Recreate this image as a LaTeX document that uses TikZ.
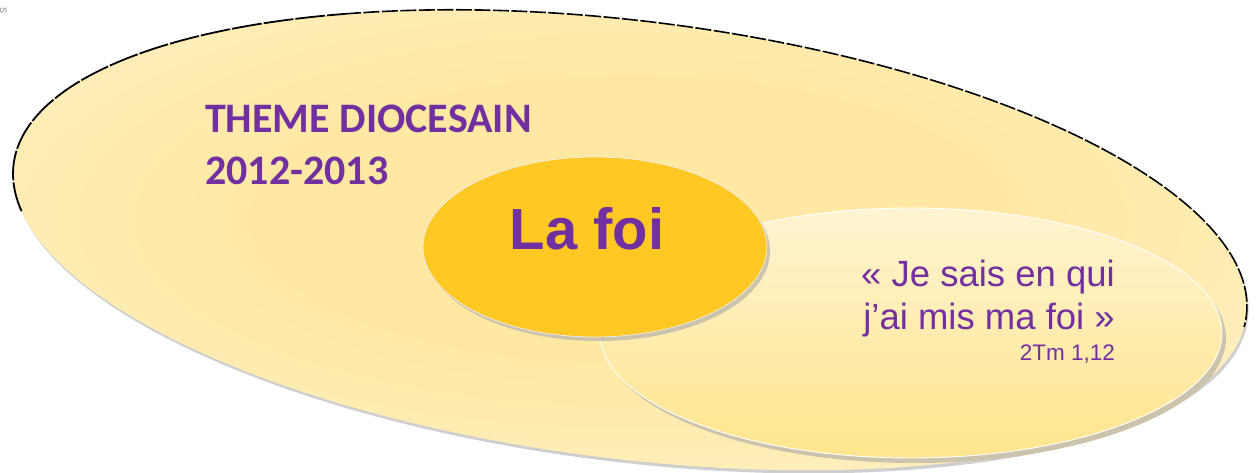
\documentclass[tikz,border=0pt]{standalone}
\usepackage{fontspec}
\setmainfont{Liberation Sans}
\newfontfamily\calibri{Carlito}
\definecolor{purp}{HTML}{7030A0}
\definecolor{bigin}{HTML}{FFE8A2}
\definecolor{bigout}{HTML}{FFF8E2}
\definecolor{smtop}{HTML}{FFF4D2}
\definecolor{smbot}{HTML}{FFE58C}
\definecolor{gold}{HTML}{FFC823}
\definecolor{shadowA}{HTML}{CFCFCF}
\definecolor{shadowB}{HTML}{CBC3AC}
\pgfdeclareradialshading{bigshade}{\pgfpoint{0bp}{0bp}}{color(0bp)=(bigin); color(14bp)=(bigin); color(50bp)=(bigout); color(100bp)=(bigout)}
\tikzset{
  purpletext/.style={text=purp, inner sep=0pt},
  rimline/.style={draw=white, line width=0.9pt}
}
\begin{document}
\begin{tikzpicture}[x=1pt,y=1pt]
\useasboundingbox (0,0) rectangle (1256,473);
% corner fragment
\node[rotate=-90, text=gray, font=\fontsize{9}{9}\selectfont, inner sep=0pt, anchor=south] (frag) at (0,462) {S\,};
% big ellipse
\begin{scope}[shift={(630,233)}, rotate=-7]
  \fill[shadowA] (2,-3) ellipse [x radius=621, y radius=219];
  \path[shading=bigshade] (0,0) coordinate (bigc) ellipse [x radius=621, y radius=219];
  \draw[black, line width=1.6pt, dash pattern=on 16pt off 2.5pt]
    (120:621 and 219) arc [start angle=120, end angle=-3, x radius=621, y radius=219];
  \draw[black, line width=1.8pt, dash pattern=on 30pt off 2pt]
    (192:621 and 219) arc [start angle=192, end angle=120, x radius=621, y radius=219];
\end{scope}
% right ellipse
\fill[shadowB] (915,135) ellipse [x radius=311, y radius=125];
\path[rimline, top color=smtop, bottom color=smbot] (911,140) coordinate (smc) ellipse [x radius=311, y radius=125];
% La foi ellipse
\fill[shadowB] (598,222) ellipse [x radius=172, y radius=90];
\path[draw=white!85!gray, line width=0.7pt, fill=gold] (595,226) coordinate (foic) ellipse [x radius=172, y radius=90];
% texts
\node[purpletext, anchor=base west, font=\calibri\bfseries\fontsize{42}{48}\selectfont] (t1) at (205,340) {THEME DIOCESAIN};
\node[purpletext, anchor=base west, font=\calibri\bfseries\fontsize{42}{48}\selectfont] (t2) at (205,288) {2012-2013};
\node[purpletext, anchor=base, font=\bfseries\fontsize{58}{64}\selectfont] (foi) at (587,223) {La foi};
\node[purpletext, anchor=base east, font=\fontsize{36.5}{40}\selectfont] (q1) at (1115,186) {« Je sais en qui};
\node[purpletext, anchor=base east, font=\fontsize{36.5}{40}\selectfont] (q2) at (1115,143) {j’ai mis ma foi »};
\node[purpletext, anchor=base east, font=\fontsize{22.5}{26}\selectfont] (ref) at (1115,112) {2Tm 1,12};
\end{tikzpicture}
\end{document}
